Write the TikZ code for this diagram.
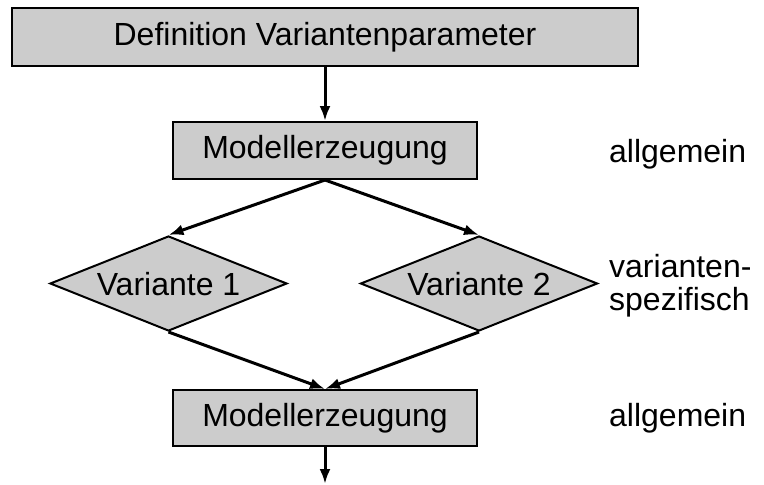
\documentclass[tikz,border=0pt]{standalone}
\usepackage{fontspec}
\setmainfont{Liberation Sans}
\usetikzlibrary{shapes.geometric,arrows.meta}
\begin{document}
\begin{tikzpicture}[x=1pt,y=-1pt,
  font=\fontsize{32}{35}\selectfont,
  box/.style={draw=black,line width=2pt,fill=boxgray,inner sep=0pt},
  choice/.style={diamond,draw=black,line width=2pt,fill=boxgray,inner sep=0pt,
    minimum width=237pt,minimum height=95pt},
  flow/.style={line width=3pt,-{Latex[length=15pt,width=11pt]}},
  note/.style={anchor=west,align=left,inner sep=0pt}]
\definecolor{boxgray}{RGB}{204,204,204}
\useasboundingbox (0,0) rectangle (764,485);

\node[box,minimum width=626pt,minimum height=58pt] (def) at (325,37) {Definition Variantenparameter};
\node[box,minimum width=304pt,minimum height=57pt] (gen1) at (325,150.5) {Modellerzeugung};
% diamonds: the outline is sized by the minimum dimensions, the caption sits on top
\node[choice,label={[inner sep=0pt,yshift=-1pt]center:Variante 1}] (v1) at (168.5,283.5) {};
\node[choice,label={[inner sep=0pt,yshift=-1pt]center:Variante 2}] (v2) at (479,283.5) {};
\node[box,minimum width=304pt,minimum height=56pt] (gen2) at (325,418) {Modellerzeugung};
\coordinate (out) at (325,484);

\node[note] (l1) at (609,154) {allgemein};
\node[note,font=\fontsize{32}{33}\selectfont] (l2) at (609,286) {varianten-\\spezifisch};
\node[note] (l3) at (609,418) {allgemein};

\draw[flow] (def.south) -- (gen1.north);
\draw[flow] (gen1.south) -- (v1.north);
\draw[flow] (gen1.south) -- (v2.north);
\draw[flow] (v1.south) -- (gen2.north);
\draw[flow] (v2.south) -- (gen2.north);
\draw[flow] (gen2.south) -- (out);
\end{tikzpicture}
\end{document}
